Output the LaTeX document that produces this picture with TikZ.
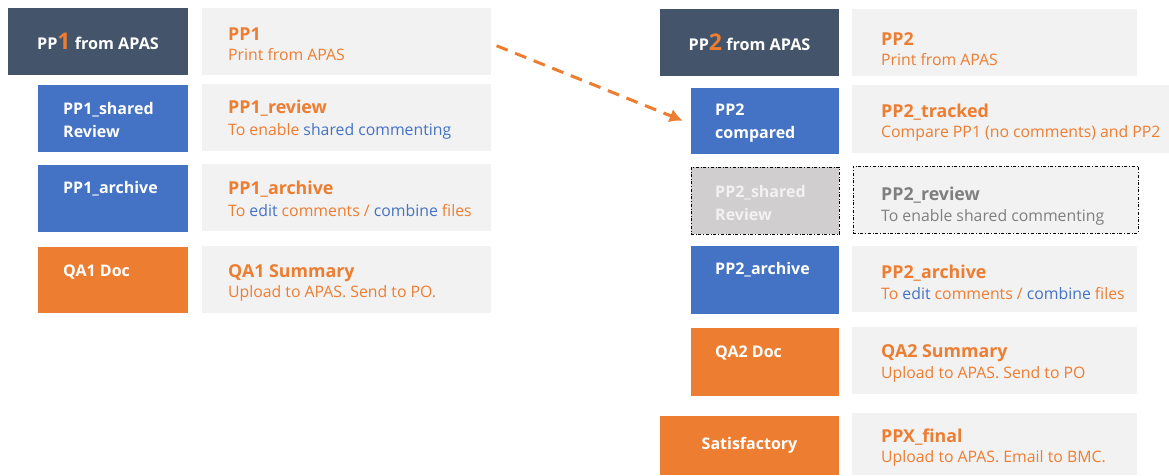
\documentclass[tikz,border=0pt]{standalone}
\usepackage{fontspec}
\setmainfont{Open Sans}
\usepackage{tikz}
\usetikzlibrary{positioning, arrows.meta}
\definecolor{slate}{HTML}{44546A}
\definecolor{cblue}{HTML}{4472C4}
\definecolor{corange}{HTML}{ED7D31}
\definecolor{cgray}{HTML}{F2F2F2}
\definecolor{cghost}{HTML}{D0CECE}
\definecolor{cgraytext}{HTML}{7F7F7F}
\tikzset{>={Latex[length=13pt,width=14pt]}}
\tikzset{
  box/.style={inner sep=0pt, outer sep=0pt, anchor=north west},
  darkbox/.style={box, fill=slate, text=white,
    font=\bfseries\fontsize{16.2}{19}\selectfont},
  bluebox/.style={box, fill=cblue},
  orangebox/.style={box, fill=corange, text=white,
    font=\bfseries\fontsize{16}{19}\selectfont},
  notebox/.style={box, fill=cgray},
  ghostbox/.style={box, draw=black, dash dot, line width=0.8pt},
  boxtext/.style={anchor=west, inner sep=0pt, text=white, align=left,
    font=\bfseries\fontsize{16}{23}\selectfont},
  notetitle/.style={anchor=west, inner sep=0pt, text=corange,
    font=\bfseries\fontsize{17.8}{20}\selectfont},
  notetext/.style={anchor=west, inner sep=0pt, text=corange,
    font=\fontsize{15.8}{18}\selectfont},
  flow/.style={->, corange, line width=3pt, dash pattern=on 12pt off 8pt},
}
\newcommand{\hl}[1]{\textcolor{cblue}{#1}}
\newcommand{\bignum}[1]{{\color{corange}\fontsize{23}{23}\selectfont #1}}

\begin{document}
\begin{tikzpicture}[x=1pt, y=-1pt]
  \useasboundingbox (0,0) rectangle (1169,475);
  % first print
  \node[darkbox, minimum width=180, minimum height=67] (pp1) at (8,8) {PP\bignum{1} from APAS};
  \node[notebox, minimum width=289, minimum height=67] (pp1note) at (202,8) {};
  \node[notetitle] (pp1note-t) at ([xshift=26, yshift=-26]pp1note.north west) {PP1};
  \node[notetext] (pp1note-s) at ([xshift=26, yshift=-47]pp1note.north west) {Print from APAS};

  \node[bluebox, minimum width=150, minimum height=67] (shared1) at (38,85) {};
  \node[boxtext] (shared1-t) at ([xshift=25, yshift=-1]shared1.west) {PP1\_shared\\Review};
  \node[notebox, minimum width=289, minimum height=67] (shared1note) at (202,84) {};
  \node[notetitle] (shared1note-t) at ([xshift=26, yshift=-24]shared1note.north west) {PP1\_review};
  \node[notetext] (shared1note-s) at ([xshift=26, yshift=-47]shared1note.north west) {To enable \hl{shared commenting}};

  \node[bluebox, minimum width=150, minimum height=67] (arch1) at (38,165) {};
  \node[boxtext] (arch1-t) at ([xshift=25, yshift=-24]arch1.north west) {PP1\_archive};
  \node[notebox, minimum width=289, minimum height=67] (arch1note) at (202,164) {};
  \node[notetitle] (arch1note-t) at ([xshift=26, yshift=-25]arch1note.north west) {PP1\_archive};
  \node[notetext] (arch1note-s) at ([xshift=26, yshift=-47]arch1note.north west) {To \hl{edit} comments / \hl{combine} files};

  \node[orangebox, minimum width=150, minimum height=66] (qa1) at (38,247) {};
  \node[boxtext] (qa1-t) at ([xshift=25, yshift=-25]qa1.north west) {QA1 Doc};
  \node[notebox, minimum width=289, minimum height=67] (qa1note) at (202,246) {};
  \node[notetitle] (qa1note-t) at ([xshift=26, yshift=-27]qa1note.north west) {QA1 Summary};
  \node[notetext] (qa1note-s) at ([xshift=26, yshift=-47]qa1note.north west) {Upload to APAS. Send to PO.};

  % second print
  \node[darkbox, minimum width=179, minimum height=67] (pp2) at (660,9) {PP\bignum{2} from APAS};
  \node[notebox, minimum width=285, minimum height=67] (pp2note) at (852,9) {};
  \node[notetitle] (pp2note-t) at ([xshift=29, yshift=-30]pp2note.north west) {PP2};
  \node[notetext] (pp2note-s) at ([xshift=29, yshift=-51]pp2note.north west) {Print from APAS};

  \node[bluebox, minimum width=148, minimum height=66] (cmp2) at (691,88) {};
  \node[boxtext] (cmp2-t) at ([xshift=24, yshift=-2]cmp2.west) {PP2\\compared};
  \node[notebox, minimum width=317, minimum height=68] (cmp2note) at (852,85) {};
  \node[notetitle] (cmp2note-t) at ([xshift=29, yshift=-27]cmp2note.north west) {PP2\_tracked};
  \node[notetext] (cmp2note-s) at ([xshift=29, yshift=-48]cmp2note.north west) {Compare PP1 (no comments) and PP2};

  \node[ghostbox, fill=cghost, minimum width=148, minimum height=67] (shared2) at (691,167) {};
  \node[boxtext, text=cgray] (shared2-t) at ([xshift=24, yshift=-2]shared2.west) {PP2\_shared\\Review};
  \node[ghostbox, fill=cgray, minimum width=285, minimum height=67] (shared2note) at (853,166) {};
  \node[notetitle, text=cgraytext] (shared2note-t) at ([xshift=28, yshift=-29]shared2note.north west) {PP2\_review};
  \node[notetext, text=cgraytext] (shared2note-s) at ([xshift=28, yshift=-51]shared2note.north west) {To enable shared commenting};

  \node[bluebox, minimum width=148, minimum height=68] (arch2) at (691,246) {};
  \node[boxtext] (arch2-t) at ([xshift=24, yshift=-24]arch2.north west) {PP2\_archive};
  \node[notebox, minimum width=285, minimum height=66] (arch2note) at (852,246) {};
  \node[notetitle] (arch2note-t) at ([xshift=29, yshift=-27]arch2note.north west) {PP2\_archive};
  \node[notetext] (arch2note-s) at ([xshift=29, yshift=-48]arch2note.north west) {To \hl{edit} comments / \hl{combine} files};

  \node[orangebox, minimum width=148, minimum height=68] (qa2) at (691,328) {};
  \node[boxtext] (qa2-t) at ([xshift=24, yshift=-25]qa2.north west) {QA2 Doc};
  \node[notebox, minimum width=285, minimum height=67] (qa2note) at (852,327) {};
  \node[notetitle] (qa2note-t) at ([xshift=29, yshift=-26]qa2note.north west) {QA2 Summary};
  \node[notetext] (qa2note-s) at ([xshift=29, yshift=-47]qa2note.north west) {Upload to APAS. Send to PO};

  \node[orangebox, minimum width=179, minimum height=59] (sat) at (660,416) {Satisfactory};
  \node[notebox, minimum width=285, minimum height=62] (satnote) at (852,413) {};
  \node[notetitle] (satnote-t) at ([xshift=29, yshift=-24]satnote.north west) {PPX\_final};
  \node[notetext] (satnote-s) at ([xshift=29, yshift=-45]satnote.north west) {Upload to APAS. Email to BMC.};

  % carried over to the second round
  \draw[flow, shorten <=6pt, shorten >=9pt] ([yshift=-2]pp1note.east) -- ([yshift=-3]cmp2.west);
\end{tikzpicture}
\end{document}
